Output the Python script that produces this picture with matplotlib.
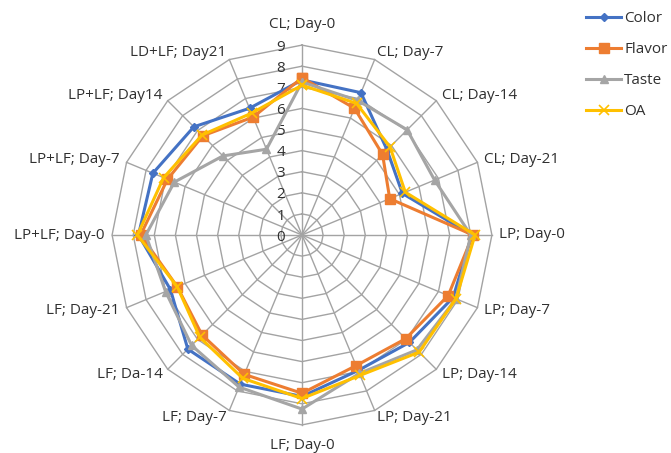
import numpy as np
import matplotlib
matplotlib.use('Agg')
import matplotlib.pyplot as plt

plt.rcParams['font.family'] = ['Open Sans', 'DejaVu Sans']

# categories, clockwise from the top
categories = ['CL; Day-0', 'CL; Day-7', 'CL; Day-14', 'CL; Day-21',
              'LP; Day-0', 'LP; Day-7', 'LP; Day-14', 'LP; Day-21',
              'LF; Day-0', 'LF; Day-7', 'LF; Da-14', 'LF; Day-21',
              'LP+LF; Day-0', 'LP+LF; Day-7', 'LP+LF; Day14', 'LD+LF; Day21']

color_vals  = [7.35, 7.3, 5.7, 5.15, 8.05, 7.75, 7.2, 6.95, 7.65, 7.65, 7.65, 6.75, 7.75, 7.65, 7.25, 6.5]
flavor_vals = [7.45, 6.5, 5.4, 4.5, 8.1, 7.5, 6.95, 6.7, 7.5, 7.15, 6.7, 6.4, 7.65, 6.9, 6.65, 6.05]
taste_vals  = [7.25, 6.9, 7.05, 6.8, 8.0, 7.9, 7.7, 7.1, 8.25, 7.8, 7.4, 7.0, 7.4, 6.55, 5.3, 4.4]
oa_vals     = [7.1, 6.75, 5.9, 5.3, 8.2, 7.9, 7.85, 7.2, 7.75, 7.35, 6.85, 6.4, 7.8, 7.1, 6.7, 6.25]

series_names = ['Color', 'Flavor', 'Taste', 'OA']
rings = list(range(0, 10))

n = len(categories)
ang = np.arange(n) * 2 * np.pi / n   # clockwise from top
sx = np.sin(ang)
sy = np.cos(ang)

unit = 21.1  # px per unit
cx, cy = 302, 235
W, H = 671, 453
fs = 11
txtc = '#303030'

fig = plt.figure(figsize=(6.71, 4.53), dpi=100)
ax = fig.add_axes([0, 0, 1, 1])
ax.set_xlim(-cx / unit, (W - cx) / unit)
ax.set_ylim(-(H - cy) / unit, cy / unit)
ax.axis('off')

gridc = '#a3a3a3'
# polygon rings
for r in rings[1:]:
    xs = np.append(r * sx, r * sx[0])
    ys = np.append(r * sy, r * sy[0])
    ax.plot(xs, ys, color=gridc, lw=1, zorder=1)
# spokes
rmax = rings[-1]
for i in range(n):
    ax.plot([0, rmax * sx[i]], [0, rmax * sy[i]], color=gridc, lw=1, zorder=1)

# radial tick labels
for r in rings:
    ax.text(-0.8, r - 0.1, str(r), ha='right', va='center', fontsize=fs, color=txtc)

# category labels
for i, lab in enumerate(categories):
    if abs(sx[i]) < 0.1:
        rr = 9.6
        va = 'bottom' if sy[i] > 0 else 'top'
        ax.text(rr * sx[i], rr * sy[i], lab, ha='center', va=va, fontsize=fs, color=txtc)
    else:
        rr = 9.35
        ha = 'left' if sx[i] > 0 else 'right'
        ax.text(rr * sx[i], rr * sy[i], lab, ha=ha, va='center', fontsize=fs, color=txtc)

styles = [
    dict(color='#4472C4', marker='D', ms=4.5),
    dict(color='#ED7D31', marker='s', ms=6.5),
    dict(color='#A5A5A5', marker='^', ms=6),
    dict(color='#FFC000', marker='x', ms=7, mew=1.2),
]
all_vals = [color_vals, flavor_vals, taste_vals, oa_vals]
for name, vals, st in zip(series_names, all_vals, styles):
    v = np.array(vals)
    xs = np.append(v * sx, v[0] * sx[0])
    ys = np.append(v * sy, v[0] * sy[0])
    ax.plot(xs, ys, lw=2.2, label=name, zorder=3, **st)

leg = ax.legend(loc='upper left', bbox_to_anchor=(580 / W, 1 - 5 / H), frameon=False,
                fontsize=fs, labelspacing=1.05, handlelength=2.3, handletextpad=0.2,
                borderaxespad=0)
for t in leg.get_texts():
    t.set_color(txtc)

fig.savefig('out.png', dpi=100)
